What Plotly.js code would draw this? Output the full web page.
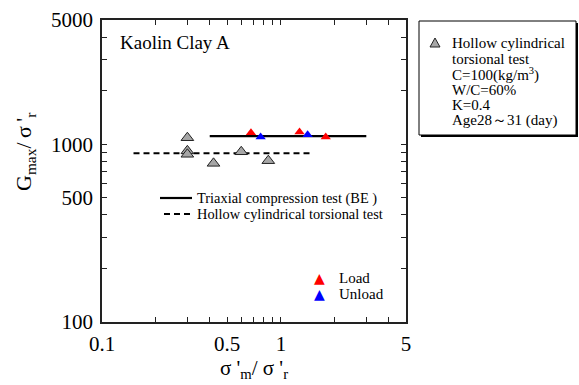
<!DOCTYPE html>
<html>
<head>
<meta charset="utf-8">
<script src="https://cdn.plot.ly/plotly-3.0.1.min.js"></script>
<style>html,body{margin:0;padding:0;background:#fff;}#chart{width:579px;height:385px;}</style>
</head>
<body>
<div id="chart"></div>
<script>
// ---- data ----
const hollowPtsX = [0.30, 0.30, 0.30, 0.42, 0.60, 0.85];
const hollowPtsY = [1088, 918, 878, 781, 907, 808];
const loadX = [0.68, 1.27, 1.78];
const loadY = [1160, 1170, 1097];
const unloadX = [0.77, 1.41];
const unloadY = [1097, 1131];
const triaxLineX = [0.40, 3.0];
const triaxLineY = [1110, 1110];
const hollowLineX = [0.15, 1.5];
const hollowLineY = [890, 890];

const xTickVals = [0.1, 0.5, 1, 5];
const xTickText = ['0.1', '0.5', '1', '5'];
const xMinorVals = [0.2,0.3,0.4,0.6,0.7,0.8,0.9,2,3,4];
const yTickVals = [100, 500, 1000, 5000];
const yTickText = ['100', '500', '1000', '5000'];
const yMinorVals = [200,300,400,600,700,800,900,2000,3000,4000];

const boxLines = ['Hollow cylindrical','torsional test','C=100(kg/m<sup>3</sup>)','W/C=60%','K=0.4','Age28～31 (day)'];

const SERIF = "'Times New Roman', 'Liberation Serif', Times, serif";

// pixel helpers for paper placement of decorations
const L = 102, R = 406, T = 20, B = 322;
const px = v => (v - L) / (R - L);
const py = v => (B - v) / (B - T);

const traces = [
  {x: triaxLineX, y: triaxLineY, mode: 'lines', line: {color: '#000', width: 2.2}, showlegend: false, hoverinfo: 'skip'},
  {x: hollowLineX, y: hollowLineY, mode: 'lines', line: {color: '#000', width: 2.2, dash: '6px,4px'}, showlegend: false, hoverinfo: 'skip'},
  {x: hollowPtsX, y: hollowPtsY, mode: 'markers', marker: {symbol: 'triangle-up', size: 11, color: '#a6a6a6', line: {color: '#222', width: 1}}, showlegend: false},
  {x: loadX, y: loadY, mode: 'markers', marker: {symbol: 'triangle-up', size: 9, color: '#ff0000'}, showlegend: false},
  {x: unloadX, y: unloadY, mode: 'markers', marker: {symbol: 'triangle-up', size: 9, color: '#0000ff'}, showlegend: false}
];

const annotations = [
  {xref:'paper', yref:'paper', x: px(118), y: py(43), xanchor:'left', yanchor:'middle', showarrow:false, text:'Kaolin Clay A', font:{family:SERIF, size:19, color:'#000'}},
  {xref:'paper', yref:'paper', x: px(195), y: py(198), xanchor:'left', yanchor:'middle', showarrow:false, text:'Triaxial compression test (BE )', font:{family:SERIF, size:14.4, color:'#000'}},
  {xref:'paper', yref:'paper', x: px(195), y: py(214), xanchor:'left', yanchor:'middle', showarrow:false, text:'Hollow cylindrical torsional test', font:{family:SERIF, size:14.4, color:'#000'}},
  {xref:'paper', yref:'paper', x: px(319), y: py(278), xanchor:'center', yanchor:'middle', showarrow:false, text:'▲', font:{family:'DejaVu Sans', size:14, color:'#ff0000'}},
  {xref:'paper', yref:'paper', x: px(319), y: py(294), xanchor:'center', yanchor:'middle', showarrow:false, text:'▲', font:{family:'DejaVu Sans', size:14, color:'#0000ff'}},
  {xref:'paper', yref:'paper', x: px(337), y: py(278), xanchor:'left', yanchor:'middle', showarrow:false, text:'Load', font:{family:SERIF, size:15, color:'#000'}},
  {xref:'paper', yref:'paper', x: px(337), y: py(294), xanchor:'left', yanchor:'middle', showarrow:false, text:'Unload', font:{family:SERIF, size:15, color:'#000'}},
  // y-axis title (sits above the axis centre in the reference)
  {xref:'paper', yref:'paper', x: px(25), y: py(152), xanchor:'center', yanchor:'middle', showarrow:false, textangle:-90,
   text:'G<sub>max</sub>/\u2009σ\u2009\'<sub>r</sub>', font:{family:SERIF, size:22, color:'#000'}}
];
const boxY = [43, 59, 74, 90, 105, 120];
boxLines.forEach((t, i) => {
  annotations.push({xref:'paper', yref:'paper', x: px(450), y: py(boxY[i]), xanchor:'left', yanchor:'middle', showarrow:false, text:t, font:{family:SERIF, size:15, color:'#000'}});
});

const shapes = [
  // line legend samples
  {type:'line', xref:'paper', yref:'paper', x0: px(160), x1: px(192), y0: py(198), y1: py(198), line:{color:'#000', width:2.2}},
  {type:'line', xref:'paper', yref:'paper', x0: px(164), x1: px(192), y0: py(214), y1: py(214), line:{color:'#000', width:2.2, dash:'6px,4px'}},
  // info box shadow + box
  {type:'rect', xref:'paper', yref:'paper', x0: px(421), x1: px(578), y0: py(23), y1: py(137), fillcolor:'#000', line:{width:0}, layer:'above'},
  {type:'rect', xref:'paper', yref:'paper', x0: px(419), x1: px(576), y0: py(21), y1: py(135), fillcolor:'#fff', line:{color:'#000', width:1}, layer:'above'},
  // gray triangle symbol in box
  {type:'path', xref:'paper', yref:'paper', layer:'above',
   path: 'M ' + px(430) + ',' + py(47) + ' L ' + px(440) + ',' + py(47) + ' L ' + px(435) + ',' + py(38) + ' Z',
   fillcolor:'#a6a6a6', line:{color:'#222', width:1}}
];

const axisCommon = {
  type:'log', showline:true, linecolor:'#222', linewidth:1.8, mirror:'ticks',
  ticks:'inside', ticklen:5, tickwidth:1, tickcolor:'#222', showgrid:false, zeroline:false,
  tickmode:'array', tickfont:{family:SERIF, size:21, color:'#000'}
};

const layout = {
  width:579, height:385,
  margin:{l:L, r:579-R, t:T, b:385-B, pad:0},
  paper_bgcolor:'#fff', plot_bgcolor:'#fff',
  showlegend:false,
  xaxis: Object.assign({}, axisCommon, {
    range:[Math.log10(0.1), Math.log10(5)], tickvals:xTickVals, ticktext:xTickText,
    minor:{tickmode:'array', tickvals:xMinorVals, ticks:'inside', ticklen:5, tickwidth:1, tickcolor:'#222', showgrid:false},
    ticklabelstandoff: 2,
    title:{text:'σ \'<sub>m</sub>/ σ \'<sub>r</sub>', font:{family:SERIF, size:21, color:'#000'}, standoff:1}
  }),
  yaxis: Object.assign({}, axisCommon, {
    range:[2, Math.log10(5000)], tickvals:yTickVals, ticktext:yTickText,
    minor:{tickmode:'array', tickvals:yMinorVals, ticks:'inside', ticklen:5, tickwidth:1, tickcolor:'#222', showgrid:false},
    ticklabelstandoff: 3
  }),
  annotations: annotations,
  shapes: shapes
};

Plotly.newPlot('chart', traces, layout, {staticPlot:true, displayModeBar:false});
</script>
</body>
</html>
